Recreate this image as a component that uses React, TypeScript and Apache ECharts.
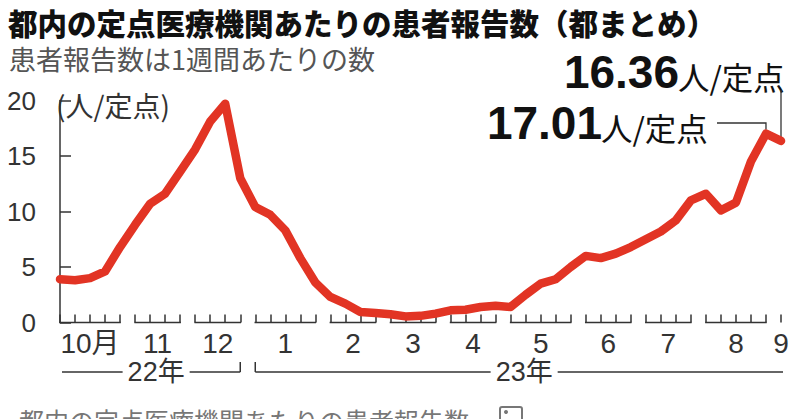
import React, { useEffect, useRef } from 'react';
import * as echarts from 'echarts';

// weekly patients per sentinel site (Oct 2022 – early Sep 2023)
const weekValues = [
  3.9, 3.8, 4.0, 4.6, 6.8,
  8.8, 10.7, 11.6, 13.6,
  15.6, 18.1, 19.7, 13.0,
  10.4, 9.7, 8.3, 5.8, 3.6,
  2.3, 1.7, 0.95, 0.85,
  0.75, 0.55, 0.6, 0.8,
  1.1, 1.15, 1.4, 1.5,
  1.4, 2.5, 3.5, 3.9, 5.0,
  6.0, 5.8, 6.2, 6.8,
  7.5, 8.2, 9.2, 11.0,
  11.6, 10.1, 10.8, 14.5, 17.01,
  16.36,
];

const monthLabels = ['10月', '11', '12', '1', '2', '3', '4', '5', '6', '7', '8', '9'];
const monthStart = [0, 5, 9, 13, 18, 22, 26, 30, 35, 39, 43, 48];
const monthEnd = [4, 8, 12, 17, 21, 25, 29, 34, 38, 42, 47, 48];

const yearLabels = ['22年', '23年'];
const yearStart = [0, 13];
const yearEnd = [12, 48];

const annotatedWeeks = [47, 48];

const yTicks = [0, 5, 10, 15, 20];

const TEXT = '#333';
const RED = '#e23424';
const LATIN = '"Liberation Sans", Arial, "Noto Sans CJK JP", sans-serif';
const CJK = '"Noto Sans CJK JP", "Liberation Sans", sans-serif';

export default function App() {
  const ref = useRef<HTMLDivElement>(null);

  useEffect(() => {
    if (!ref.current) return;
    const chart = echarts.init(ref.current, undefined, { renderer: 'svg' });

    const monthData = monthLabels.map((m, i) => [monthStart[i], monthEnd[i]]);
    const yearData = yearLabels.map((y, i) => [yearStart[i], yearEnd[i]]);
    const annData = annotatedWeeks.map((w) => [w, weekValues[w]]);

    const option: any = {
      animation: false,
      grid: { left: 60, right: 19, top: 100.5, bottom: 96.5 },
      xAxis: {
        type: 'value',
        min: 0,
        max: weekValues.length - 1,
        interval: 1,
        axisLine: { show: false },
        axisTick: { show: true, inside: true, length: 8, lineStyle: { color: TEXT, width: 1.5 } },
        axisLabel: { show: false },
        splitLine: { show: false },
      },
      yAxis: {
        type: 'value',
        min: yTicks[0],
        max: yTicks[yTicks.length - 1],
        interval: yTicks[1] - yTicks[0],
        offset: 18,
        axisLine: { show: true, lineStyle: { color: TEXT, width: 1.5 } },
        axisTick: { show: true, inside: true, length: 11, lineStyle: { color: TEXT, width: 1.5 } },
        axisLabel: { margin: 6, color: TEXT, fontSize: 26, fontFamily: LATIN },
        splitLine: { show: false },
      },
      series: [
        {
          type: 'custom',
          silent: true,
          z: 1,
          data: monthData,
          renderItem: (params: any, api: any) => {
            const s = api.value(0);
            const e = api.value(1);
            const p0 = api.coord([s, 0]);
            const p1 = api.coord([e, 0]);
            const y = p0[1];
            const label = monthLabels[params.dataIndex];
            const children: any[] = [];
            if (e > s) {
              children.push({
                type: 'line',
                shape: { x1: p0[0] - 0.75, y1: y, x2: p1[0] + 0.75, y2: y },
                style: { stroke: TEXT, lineWidth: 1.5 },
              });
            }
            children.push({
              type: 'text',
              x: (p0[0] + p1[0]) / 2,
              y: y + 21,
              style: {
                text: label,
                fill: TEXT,
                font: `28px ${LATIN}`,
                align: 'center',
                verticalAlign: 'middle',
              },
            });
            return { type: 'group', children };
          },
        },
        {
          type: 'custom',
          silent: true,
          z: 1,
          data: yearData,
          renderItem: (params: any, api: any) => {
            const i = params.dataIndex;
            const s = api.value(0);
            const e = api.value(1);
            const p0 = api.coord([s, 0]);
            const p1 = api.coord([e, 0]);
            const y = p0[1] + 49.5;
            const x0 = p0[0] + (i === 0 ? 2 : 0);
            const x1 = p1[0] + (i === yearLabels.length - 1 ? 2 : 0);
            const children: any[] = [
              {
                type: 'line',
                shape: { x1: x0, y1: y, x2: x1, y2: y },
                style: { stroke: TEXT, lineWidth: 1.5 },
              },
            ];
            if (i < yearLabels.length - 1) {
              children.push({
                type: 'line',
                shape: { x1: x1, y1: y, x2: x1, y2: y - 10 },
                style: { stroke: TEXT, lineWidth: 1.5 },
              });
            }
            if (i > 0) {
              children.push({
                type: 'line',
                shape: { x1: x0, y1: y, x2: x0, y2: y - 10 },
                style: { stroke: TEXT, lineWidth: 1.5 },
              });
            }
            const c = api.coord([(s + e) / 2 + 0.4, 0]);
            children.push({
              type: 'text',
              x: c[0],
              y: y,
              z2: 10,
              style: {
                text: yearLabels[i],
                fill: TEXT,
                font: `27px ${LATIN}`,
                align: 'center',
                verticalAlign: 'middle',
                backgroundColor: '#fff',
                padding: [0, 5],
              },
            });
            return { type: 'group', children };
          },
        },
        {
          type: 'custom',
          silent: true,
          z: 2,
          data: annData,
          renderItem: (params: any, api: any) => {
            const p = api.coord([api.value(0), api.value(1)]);
            const pts =
              params.dataIndex === 0
                ? [[p[0], p[1] - 4], [p[0], 123], [717, 123]]
                : [[p[0], p[1] - 4], [p[0], 90]];
            return {
              type: 'polyline',
              shape: { points: pts },
              style: { stroke: TEXT, lineWidth: 1.3, fill: 'none' },
            };
          },
        },
        {
          type: 'line',
          z: 3,
          data: weekValues.map((v, i) => [i, v]),
          showSymbol: false,
          symbol: 'none',
          lineStyle: { color: RED, width: 8.5, cap: 'round', join: 'round' },
        },
      ],
      graphic: [
        {
          type: 'text',
          left: 8,
          top: 7,
          style: {
            text: '都内の定点医療機関あたりの患者報告数（都まとめ）',
            fill: '#111',
            font: `900 29.5px ${CJK}`,
          },
        },
        {
          type: 'text',
          left: 9,
          top: 45,
          style: {
            text: '患者報告数は1週間あたりの数',
            fill: '#555',
            font: `27px ${CJK}`,
          },
        },
        {
          type: 'text',
          x: 56,
          y: 105,
          style: {
            text: '(人/定点)',
            fill: TEXT,
            font: `28px ${CJK}`,
            verticalAlign: 'middle',
          },
        },
        {
          type: 'text',
          x: 679,
          y: 71.5,
          style: {
            text: weekValues[annotatedWeeks[1]].toFixed(2),
            fill: '#111',
            font: `bold 46px ${LATIN}`,
            align: 'right',
            verticalAlign: 'middle',
          },
        },
        {
          type: 'text',
          x: 678,
          y: 76,
          style: {
            text: '人/定点',
            fill: '#111',
            font: `31.5px ${CJK}`,
            verticalAlign: 'middle',
          },
        },
        {
          type: 'text',
          x: 602,
          y: 122.5,
          style: {
            text: weekValues[annotatedWeeks[0]].toFixed(2),
            fill: '#111',
            font: `bold 46px ${LATIN}`,
            align: 'right',
            verticalAlign: 'middle',
          },
        },
        {
          type: 'text',
          x: 601,
          y: 127,
          style: {
            text: '人/定点',
            fill: '#111',
            font: `31.5px ${CJK}`,
            verticalAlign: 'middle',
          },
        },
        {
          type: 'text',
          x: 19,
          y: 420,
          style: {
            text: '都内の定点医療機関あたりの患者報告数',
            fill: '#777',
            font: `25px ${CJK}`,
            verticalAlign: 'middle',
          },
        },
        {
          type: 'rect',
          shape: { x: 500, y: 407, width: 22, height: 18, r: 2 },
          style: { stroke: '#777', lineWidth: 2, fill: 'none' },
        },
        {
          type: 'circle',
          shape: { cx: 506, cy: 412, r: 2 },
          style: { fill: '#777' },
        },
      ],
    };

    chart.setOption(option);
    return () => chart.dispose();
  }, []);

  return <div ref={ref} style={{ width: 800, height: 419, position: 'fixed', left: 0, top: 0, background: '#fff' }} />;
}
